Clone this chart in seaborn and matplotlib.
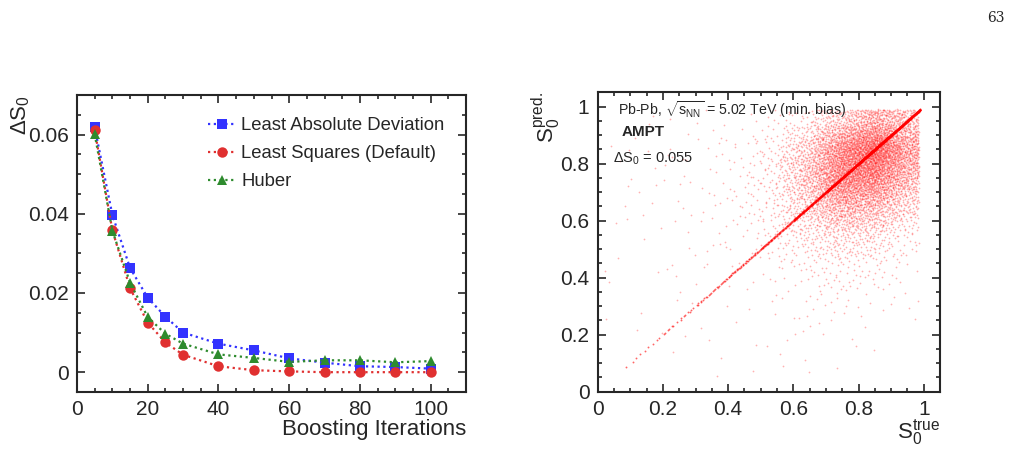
import numpy as np
import pandas as pd
import matplotlib
matplotlib.use("Agg")
import matplotlib.pyplot as plt
from matplotlib.ticker import MultipleLocator, FuncFormatter
import seaborn as sns

# ---------------------------------------------------------------- DATA
iterations = [5, 10, 15, 20, 25, 30, 40, 50, 60, 70, 80, 90, 100]
lad_ds = [0.0618, 0.0397, 0.0263, 0.0188, 0.0140, 0.0100, 0.0072,
          0.0055, 0.0035, 0.0024, 0.0015, 0.0013, 0.0009]
ls_ds = [0.0611, 0.0358, 0.0212, 0.0125, 0.0075, 0.0044, 0.0015,
         0.0005, 0.0002, 0.0000, 0.0000, 0.0000, 0.0000]
huber_ds = [0.0601, 0.0357, 0.0226, 0.0139, 0.0097, 0.0072, 0.0045,
            0.0036, 0.0026, 0.0030, 0.0030, 0.0025, 0.0028]
loss_names = ["Least Absolute Deviation", "Least Squares (Default)", "Huber"]

# estimated counts of off-diagonal entries per 0.1 x 0.1 cell of (S0 true, S0 pred)
# rows: S0 pred bins 0.0-0.1 ... 0.9-1.0, cols: S0 true bins 0.0-0.1 ... 0.9-1.0
s0_cells = [
    [0, 0, 0, 1, 1, 1, 1, 1, 0, 0],
    [0, 1, 1, 1, 1, 2, 2, 3, 1, 1],
    [1, 1, 1, 2, 2, 3, 5, 6, 3, 1],
    [1, 1, 2, 2, 3, 5, 10, 15, 8, 3],
    [1, 2, 2, 3, 5, 10, 25, 40, 25, 8],
    [1, 2, 3, 5, 8, 25, 70, 120, 90, 30],
    [2, 3, 4, 6, 12, 40, 170, 350, 300, 120],
    [2, 3, 4, 6, 14, 50, 260, 700, 700, 300],
    [2, 3, 4, 6, 12, 45, 200, 650, 1000, 450],
    [1, 2, 2, 3, 5, 12, 50, 180, 380, 250],
]
# estimated counts of exact predictions (on the diagonal) per 0.1 bin of S0 true
s0_diag = [3, 8, 15, 25, 40, 70, 150, 300, 450, 300]


# ---------------------------------------------------------------- spread counts into points
def halton(n, b, start=1):
    i = np.arange(start, start + n)
    r = np.zeros(n)
    f = 1.0
    while np.any(i > 0):
        f /= b
        r += f * (i % b)
        i //= b
    return r


# thin a Halton point set with the (bilinearly smoothed) cell counts
cells = np.array(s0_cells, dtype=float)
n_try = int(cells.max() * 100)
px, py, pz = halton(n_try, 2), halton(n_try, 3), halton(n_try, 5)
fx = np.clip(px / 0.1 - 0.5, 0, 9)
fy = np.clip(py / 0.1 - 0.5, 0, 9)
ix0 = np.minimum(fx.astype(int), 8)
iy0 = np.minimum(fy.astype(int), 8)
tx, ty = fx - ix0, fy - iy0
dens = ((1 - tx) * (1 - ty) * cells[iy0, ix0] + tx * (1 - ty) * cells[iy0, ix0 + 1]
        + (1 - tx) * ty * cells[iy0 + 1, ix0] + tx * ty * cells[iy0 + 1, ix0 + 1])
keep = (pz < dens / cells.max()) & (px > 0.02) & (px < 0.985) & (py > 0.02) & (py < 0.99)
scat = pd.DataFrame({"s0_true": px[keep], "s0_pred": py[keep]})

dx, dy = [], []
for ib, n in enumerate(s0_diag):
    t = (ib + halton(n, 2, 7)) * 0.1
    d = (halton(n, 3, 7) - 0.5) * 0.002
    ok = (t > 0.06) & (t < 0.99)
    dx += list((t + d)[ok])
    dy += list((t - d)[ok])
diag = pd.DataFrame({"s0_true": dx, "s0_pred": dy})

curves = pd.DataFrame({
    "iter": iterations * 3,
    "ds": lad_ds + ls_ds + huber_ds,
    "loss": [loss_names[0]] * 13 + [loss_names[1]] * 13 + [loss_names[2]] * 13,
})

# ---------------------------------------------------------------- STYLE
sns.set_style("ticks")
plt.rcParams["font.family"] = ["Liberation Sans", "DejaVu Sans"]
plt.rcParams["mathtext.fontset"] = "custom"
plt.rcParams["mathtext.rm"] = "Liberation Sans"
plt.rcParams["mathtext.it"] = "Liberation Sans"
plt.rcParams["mathtext.bf"] = "Liberation Sans:bold"
plt.rcParams["mathtext.default"] = "regular"

fig = plt.figure(figsize=(10.2, 4.54), dpi=100)
ax1 = fig.add_axes([0.0755, 0.1366, 0.3814, 0.6542])
ax2 = fig.add_axes([0.586, 0.1372, 0.3356, 0.6595])


def root_axes(ax, major_x, minor_x, major_y, minor_y):
    for s in ax.spines.values():
        s.set_linewidth(1.5)
        s.set_visible(True)
    ax.xaxis.set_major_locator(MultipleLocator(major_x))
    ax.xaxis.set_minor_locator(MultipleLocator(minor_x))
    ax.yaxis.set_major_locator(MultipleLocator(major_y))
    ax.yaxis.set_minor_locator(MultipleLocator(minor_y))
    ax.tick_params(which="both", direction="in", top=True, right=True,
                   width=1.2, labelsize=15, pad=6)
    ax.tick_params(which="major", length=6)
    ax.tick_params(which="minor", length=3)


# ---------------------------------------------------------------- LEFT
palette = {loss_names[0]: "#3333ff", loss_names[1]: "#e03030", loss_names[2]: "#2e8b2e"}
markers = {loss_names[0]: "s", loss_names[1]: "o", loss_names[2]: "^"}
dashes = {n: (1, 1.6) for n in loss_names}
sns.lineplot(data=curves, x="iter", y="ds", hue="loss", style="loss",
             palette=palette, markers=markers, dashes=dashes,
             markersize=7.5, markeredgewidth=0, linewidth=1.6, ax=ax1)
ax1.set_xlim(0, 110)
ax1.set_ylim(-0.005, 0.07)
root_axes(ax1, 20, 5, 0.02, 0.005)
ax1.yaxis.set_major_formatter(FuncFormatter(
    lambda v, p: "0" if abs(v) < 1e-9 else f"{v:.2f}"))
ax1.set_xlabel("Boosting Iterations", fontsize=16, loc="right")
ax1.xaxis.set_label_coords(1.0, -0.09)
ax1.set_ylabel(r"$\Delta S_{0}$", fontsize=16, loc="top")
ax1.yaxis.set_label_coords(-0.116, 1.0)
ax1.legend(loc="upper right", bbox_to_anchor=(0.945, 0.925), frameon=False,
           fontsize=13.3, handlelength=1.5, handletextpad=0.3,
           labelspacing=0.6, borderaxespad=0, borderpad=0)

# ---------------------------------------------------------------- RIGHT
sns.scatterplot(data=scat, x="s0_true", y="s0_pred", color="#ff0000",
                s=1.6, linewidth=0, alpha=0.3, marker="o", ax=ax2,
                rasterized=True, legend=False)
sns.scatterplot(data=diag, x="s0_true", y="s0_pred", color="#ff0000",
                s=1.8, linewidth=0, alpha=0.6, marker="o", ax=ax2,
                rasterized=True, legend=False)
ax2.set_xlim(0, 1.05)
ax2.set_ylim(0, 1.05)
root_axes(ax2, 0.2, 0.05, 0.2, 0.05)
ax2.xaxis.set_major_formatter(FuncFormatter(lambda v, p: f"{v:g}"))
ax2.yaxis.set_major_formatter(FuncFormatter(lambda v, p: f"{v:g}"))
ax2.set_xlabel(r"$S_{0}^{true}$", fontsize=16, loc="right")
ax2.xaxis.set_label_coords(1.0, -0.085)
ax2.set_ylabel(r"$S_{0}^{pred.}$", fontsize=16, loc="top")
ax2.yaxis.set_label_coords(-0.101, 1.0)
ax2.text(0.06, 0.975, r"Pb-Pb, $\sqrt{s_{NN}}$ = 5.02 TeV (min. bias)",
         transform=ax2.transAxes, fontsize=10.2, va="top")
ax2.text(0.07, 0.89, "AMPT", transform=ax2.transAxes, fontsize=11,
         fontweight="bold", va="top")
ax2.text(0.045, 0.805, r"$\Delta S_{0}$ = 0.055", transform=ax2.transAxes,
         fontsize=10.5, va="top")

fig.text(0.985, 0.975, "63", fontsize=10, family="DejaVu Serif",
         ha="right", va="top")

fig.savefig("out.png", dpi=100)
